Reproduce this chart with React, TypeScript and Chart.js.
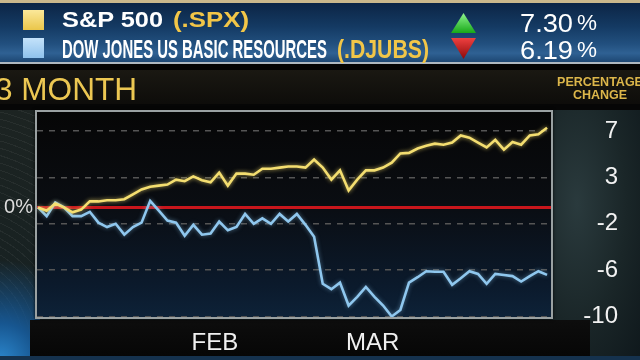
import React, { useEffect, useLayoutEffect, useRef } from "react";
import { Chart, registerables } from "chart.js";

Chart.register(...registerables);

// ---- data (percentage change) ----
const spx = [
  0, -0.3, 0.35, 0, -0.45, -0.2, 0.55, 0.55, 0.65, 0.65,
  0.75, 1.2, 1.65, 1.9, 2.0, 2.1, 2.55, 2.4, 2.85, 2.5,
  2.3, 3.2, 2.0, 3.1, 3.1, 3.0, 3.55, 3.55, 3.65, 3.75,
  3.75, 3.65, 4.4, 3.65, 2.55, 3.4, 1.55, 2.55, 3.4, 3.4,
  3.65, 4.1, 4.95, 5.0, 5.4, 5.65, 5.85, 5.75, 5.95, 6.6,
  6.4, 5.95, 5.5, 6.2, 5.3, 6.0, 5.75, 6.6, 6.7, 7.3,
];
const djubs = [
  0, -0.8, 0.45, 0, -0.8, -0.8, -0.4, -1.4, -1.8, -1.5,
  -2.5, -1.8, -1.4, 0.6, -0.3, -1.2, -1.4, -2.6, -1.6, -2.5,
  -2.4, -1.3, -2.1, -1.8, -0.6, -1.5, -1.0, -1.5, -0.6, -1.3,
  -0.6, -1.6, -2.7, -7.0, -7.5, -6.9, -9.0, -8.2, -7.3, -8.2,
  -9.0, -10.0, -9.4, -6.9, -6.4, -5.85, -5.9, -5.9, -7.1, -6.5,
  -5.85, -6.1, -7.0, -6.1, -6.2, -6.3, -6.8, -6.3, -5.85, -6.19,
];
const seriesNames = ["S&P 500", "DOW JONES US BASIC RESOURCES"];
const seriesSymbols = ["(.SPX)", "(.DJUBS)"];
const seriesChanges = ["7.30", "6.19"];
const yTickValues = [7, 2.75, -1.5, -5.75, -10];
const yTickLabels = ["7", "3", "-2", "-6", "-10"];
const monthTickIndex = [20.5, 38.8];
const monthLabels = ["FEB", "MAR"];
const zeroLabel = "0%";
const periodTitle = "3 MONTH";

const FONT = "'Liberation Sans', Arial, sans-serif";

function FitText(props: { width: number; style: React.CSSProperties; children: React.ReactNode }) {
  const ref = useRef<HTMLSpanElement>(null);
  useLayoutEffect(() => {
    const el = ref.current;
    if (!el) return;
    el.style.transform = "none";
    const w = el.getBoundingClientRect().width;
    if (w > 0) el.style.transform = `scaleX(${props.width / w})`;
  }, [props.width]);
  return (
    <span
      ref={ref}
      style={{
        position: "absolute",
        display: "inline-block",
        whiteSpace: "nowrap",
        transformOrigin: "left center",
        fontFamily: FONT,
        ...props.style,
      }}
    >
      {props.children}
    </span>
  );
}

export default function App() {
  const canvasRef = useRef<HTMLCanvasElement>(null);

  useEffect(() => {
    const canvas = canvasRef.current;
    if (!canvas) return;

    const zeroLine = {
      id: "zeroLine",
      beforeDatasetsDraw(chart: any) {
        const { ctx, chartArea, scales } = chart;
        const y = scales.y.getPixelForValue(0);
        ctx.save();
        ctx.strokeStyle = "#c8161c";
        ctx.lineWidth = 3;
        ctx.beginPath();
        ctx.moveTo(chartArea.left, y);
        ctx.lineTo(chartArea.right, y);
        ctx.stroke();
        ctx.restore();
      },
    };
    const glow = {
      id: "glow",
      beforeDatasetDraw(chart: any, args: any) {
        const ctx = chart.ctx;
        ctx.save();
        ctx.shadowColor = args.index === 0 ? "rgba(250,225,110,0.7)" : "rgba(140,200,240,0.5)";
        ctx.shadowBlur = 4;
      },
      afterDatasetDraw(chart: any) {
        chart.ctx.restore();
      },
    };

    const chart = new Chart(canvas, {
      type: "line",
      data: {
        datasets: [
          {
            label: seriesNames[0],
            data: spx.map((v, i) => ({ x: i, y: v })),
            borderColor: "#f4de70",
            borderWidth: 2.6,
            pointRadius: 0,
            tension: 0,
          },
          {
            label: seriesNames[1],
            data: djubs.map((v, i) => ({ x: i, y: v })),
            borderColor: "#8fc7ee",
            borderWidth: 2.6,
            pointRadius: 0,
            tension: 0,
          },
        ],
      },
      options: {
        animation: false,
        responsive: false,
        maintainAspectRatio: false,
        layout: { padding: { top: 112, left: 0, right: 22, bottom: 0 } },
        plugins: { legend: { display: false }, tooltip: { enabled: false } },
        scales: {
          x: {
            type: "linear",
            min: -0.12,
            max: 59.46,
            afterBuildTicks: (s: any) => {
              s.ticks = monthTickIndex.map((v) => ({ value: v }));
            },
            afterFit: (s: any) => {
              s.height = 43;
            },
            ticks: {
              autoSkip: false,
              maxRotation: 0,
              padding: 12,
              color: "#f0f0f0",
              font: { family: FONT, size: 24 },
              callback: (_v: any, i: number) => monthLabels[i],
            },
            grid: { display: false, drawTicks: false },
            border: { display: false },
          },
          y: {
            position: "right",
            min: -10.05,
            max: 8.75,
            afterBuildTicks: (s: any) => {
              s.ticks = yTickValues.map((v) => ({ value: v }));
            },
            afterFit: (s: any) => {
              s.width = 67;
            },
            ticks: {
              crossAlign: "far",
              padding: 8,
              color: "#f2f2f2",
              font: { family: FONT, size: 24 },
              callback: (_v: any, i: number) => yTickLabels[i],
            },
            grid: { color: "#555555", lineWidth: 1.5, drawTicks: false },
            border: { display: false, dash: [6, 6] },
          },
          y0: {
            position: "left",
            min: -10.05,
            max: 8.75,
            afterBuildTicks: (s: any) => {
              s.ticks = [{ value: 0 }];
            },
            afterFit: (s: any) => {
              s.width = 37;
            },
            ticks: {
              padding: 4,
              color: "#dcdcdc",
              font: { family: FONT, size: 20 },
              callback: () => zeroLabel,
            },
            grid: { display: false, drawTicks: false },
            border: { display: false },
          },
        },
      } as any,
      plugins: [zeroLine, glow],
    });
    return () => chart.destroy();
  }, []);

  const abs: React.CSSProperties = { position: "absolute" };

  return (
    <div
      style={{
        position: "fixed",
        left: 0,
        top: 0,
        width: 640,
        height: 360,
        overflow: "hidden",
        background: "#101a1e",
        fontFamily: FONT,
      }}
    >
      {/* left decorative panel */}
      <div
        style={{
          ...abs,
          left: 0,
          top: 100,
          width: 40,
          height: 260,
          background:
            "radial-gradient(circle at 0% 100%, #2b86cc 0%, #175690 14%, rgba(20,60,100,0) 38%), repeating-radial-gradient(circle at -60px 250px, rgba(255,255,255,0.05) 0 1px, rgba(0,0,0,0) 1px 7px), linear-gradient(#1d2422, #152022)",
        }}
      />
      {/* right decorative panel */}
      <div
        style={{
          ...abs,
          left: 550,
          top: 100,
          width: 90,
          height: 260,
          background:
            "radial-gradient(ellipse at 30% 40%, #2a3a3d 0%, #1a2628 55%, #0f181c 100%)",
        }}
      />
      {/* bottom strip under plot */}
      <div
        style={{
          ...abs,
          left: 30,
          top: 320,
          width: 560,
          height: 37,
          background: "linear-gradient(#0d0d0d, #060606)",
        }}
      />
      <div
        style={{
          ...abs,
          left: 0,
          top: 356,
          width: 640,
          height: 4,
          background: "#15324e",
        }}
      />
      {/* header */}
      <div style={{ ...abs, left: 0, top: 0, width: 640, height: 3, background: "#cbb88c" }} />
      <div
        style={{
          ...abs,
          left: 0,
          top: 3,
          width: 640,
          height: 59,
          background:
            "linear-gradient(#0c2545 0%, #143a63 40%, #22507f 70%, #2f6193 85%, #1d4773 100%)",
        }}
      />
      <div style={{ ...abs, left: 0, top: 62, width: 640, height: 2, background: "#aeb8c0" }} />
      <div style={{ ...abs, left: 0, top: 64, width: 640, height: 6, background: "#040404" }} />
      <div
        style={{
          ...abs,
          left: 0,
          top: 70,
          width: 640,
          height: 38,
          background: "linear-gradient(#1a1812, #0c0b09)",
        }}
      />
      <div style={{ ...abs, left: 0, top: 104, width: 640, height: 6, background: "#060606" }} />
      {/* plot background */}
      <div
        style={{
          ...abs,
          left: 37,
          top: 112,
          width: 514,
          height: 205,
          background: "linear-gradient(#060606 0%, #0a0d12 45%, #0b1a2c 85%, #0d2238 100%)",
        }}
      />
      <canvas
        ref={canvasRef}
        width={640}
        height={360}
        style={{ ...abs, left: 0, top: 0, width: 640, height: 360, display: "block" }}
      />
      {/* plot frame */}
      <div
        style={{
          ...abs,
          left: 35,
          top: 110,
          width: 514,
          height: 205,
          border: "2px solid #9aa1a2",
          boxShadow: "0 0 3px rgba(0,0,0,0.8)",
          pointerEvents: "none",
        }}
      />

      {/* legend squares */}
      <div
        style={{
          ...abs,
          left: 23,
          top: 10,
          width: 21,
          height: 20,
          background: "linear-gradient(#fbe89a, #eac64a)",
        }}
      />
      <div
        style={{
          ...abs,
          left: 23,
          top: 38,
          width: 21,
          height: 20,
          background: "linear-gradient(#c4e2fa, #8fc2ec)",
        }}
      />
      <FitText width={101} style={{ left: 62, top: 9, fontSize: 22, lineHeight: "22px", fontWeight: 700, color: "#ffffff" }}>
        {seriesNames[0]}
      </FitText>
      <FitText width={76} style={{ left: 173, top: 9, fontSize: 22, lineHeight: "22px", fontWeight: 700, color: "#f2c648" }}>
        {seriesSymbols[0]}
      </FitText>
      <FitText width={265} style={{ left: 62, top: 37, fontSize: 25, lineHeight: "25px", fontWeight: 700, color: "#ffffff" }}>
        {seriesNames[1]}
      </FitText>
      <FitText width={92} style={{ left: 337, top: 37, fontSize: 25, lineHeight: "25px", fontWeight: 700, color: "#f2c648" }}>
        {seriesSymbols[1]}
      </FitText>
      {/* arrows */}
      <div
        style={{
          ...abs,
          left: 451,
          top: 13,
          width: 25,
          height: 20,
          clipPath: "polygon(50% 0, 100% 100%, 0 100%)",
          background: "linear-gradient(#8ff58f, #17a817)",
        }}
      />
      <div
        style={{
          ...abs,
          left: 451,
          top: 38,
          width: 25,
          height: 21,
          clipPath: "polygon(0 0, 100% 0, 50% 100%)",
          background: "linear-gradient(#ef4040, #8c0a0a)",
        }}
      />
      <FitText width={53} style={{ left: 520, top: 9.5, fontSize: 26, lineHeight: "26px", color: "#ffffff" }}>
        {seriesChanges[0]}
      </FitText>
      <FitText width={20} style={{ left: 577, top: 12, fontSize: 22, lineHeight: "22px", color: "#ffffff" }}>
        %
      </FitText>
      <FitText width={53} style={{ left: 520, top: 36.5, fontSize: 26, lineHeight: "26px", color: "#ffffff" }}>
        {seriesChanges[1]}
      </FitText>
      <FitText width={20} style={{ left: 577, top: 39, fontSize: 22, lineHeight: "22px", color: "#ffffff" }}>
        %
      </FitText>

      {/* period title */}
      <FitText width={142} style={{ left: -5, top: 73, fontSize: 32, lineHeight: "32px", color: "#ecc752" }}>
        {periodTitle}
      </FitText>
      <div
        style={{
          ...abs,
          left: 550,
          top: 76,
          width: 100,
          textAlign: "center",
          fontSize: 12.5,
          lineHeight: "12.5px",
          fontWeight: 700,
          color: "#dcb64a",
          fontFamily: FONT,
        }}
      >
        PERCENTAGE
        <br />
        CHANGE
      </div>
    </div>
  );
}
